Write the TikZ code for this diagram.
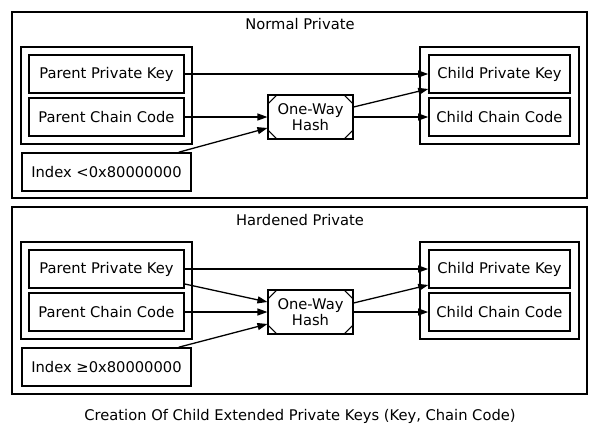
\documentclass[tikz,border=0pt]{standalone}
\usepackage{fontspec}
\setmainfont{DejaVu Sans}
\usetikzlibrary{arrows.meta}
\begin{document}
\begin{tikzpicture}[x=1pt,y=-1pt,
 every node/.style={font=\fontsize{14.7}{16.5}\selectfont, inner sep=0pt},
 box/.style={draw, line width=1.6pt, minimum height=38pt},
 cluster/.style={draw, line width=1.1pt},
 innercl/.style={draw, line width=1.6pt},
 hashbox/.style={draw, line width=1.1pt, minimum width=85pt, minimum height=44pt, align=center},
 conn/.style={line width=1.3pt, -{Triangle[length=10pt,width=7pt]}},
 corner/.style={line width=1.1pt}]
\useasboundingbox (0,0) rectangle (600,434);

% ---------- Normal Private ----------
\draw[cluster] (12,12) rectangle (587,198);
\node (t1) at (300,24) {Normal Private};
\draw[innercl] (21,47) rectangle (192,144);
\node[box, minimum width=155pt] (ppk) at (106.5,74) {Parent Private Key};
\node[box, minimum width=155pt] (pcc) at (106.5,117) {Parent Chain Code};
\node[box, minimum width=169pt] (idx) at (106.5,172) {Index <0x80000000};
\node[hashbox] (hash) at (310.5,117) {One-Way\\Hash};
\draw[corner] (hash.north west) ++(0,10) -- ++(10,-10);
\draw[corner] (hash.south west) ++(0,-10) -- ++(10,10);
\draw[corner] (hash.north east) ++(0,10) -- ++(-10,-10);
\draw[corner] (hash.south east) ++(0,-10) -- ++(-10,10);
\draw[innercl] (420,47) rectangle (579,144);
\node[box, minimum width=141pt] (cpk) at (499.5,74) {Child Private Key};
\node[box, minimum width=141pt] (ccc) at (499.5,117) {Child Chain Code};

\draw[conn] (ppk.east) -- (cpk.west);
\draw[conn] (pcc.east) -- (hash.west);
\draw[conn] ([xshift=-13pt]idx.north east) -- ([yshift=-11pt]hash.west);
\draw[conn] ([yshift=10pt]hash.east) -- ([yshift=-15pt]cpk.west);
\draw[conn] (hash.east) -- (ccc.west);

% ---------- Hardened Private ----------
\begin{scope}[yshift=-195pt]
\draw[cluster] (12,12) rectangle (587,199);
\node (t2) at (300,25) {Hardened Private};
\draw[innercl] (21,47) rectangle (192,144);
\node[box, minimum width=155pt] (ppk2) at (106.5,74) {Parent Private Key};
\node[box, minimum width=155pt] (pcc2) at (106.5,117) {Parent Chain Code};
\node[box, minimum width=169pt] (idx2) at (106.5,172) {Index ≥0x80000000};
\node[hashbox] (hash2) at (310.5,117) {One-Way\\Hash};
\draw[corner] (hash2.north west) ++(0,10) -- ++(10,-10);
\draw[corner] (hash2.south west) ++(0,-10) -- ++(10,10);
\draw[corner] (hash2.north east) ++(0,10) -- ++(-10,-10);
\draw[corner] (hash2.south east) ++(0,-10) -- ++(-10,10);
\draw[innercl] (420,47) rectangle (579,144);
\node[box, minimum width=141pt] (cpk2) at (499.5,74) {Child Private Key};
\node[box, minimum width=141pt] (ccc2) at (499.5,117) {Child Chain Code};
\end{scope}

\draw[conn] (ppk2.east) -- (cpk2.west);
\draw[conn] ([yshift=-15pt]ppk2.east) -- ([yshift=10pt]hash2.west);
\draw[conn] (pcc2.east) -- (hash2.west);
\draw[conn] ([xshift=-13pt]idx2.north east) -- ([yshift=-12pt]hash2.west);
\draw[conn] ([yshift=9pt]hash2.east) -- ([yshift=-16pt]cpk2.west);
\draw[conn] (hash2.east) -- (ccc2.west);

\node (cap) at (300,416) {Creation Of Child Extended Private Keys (Key, Chain Code)};
\end{tikzpicture}
\end{document}
